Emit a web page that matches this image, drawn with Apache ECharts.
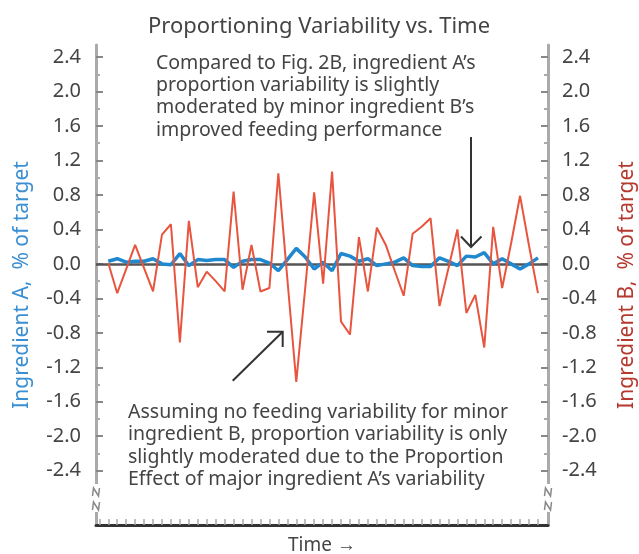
<!DOCTYPE html>
<html>
<head>
<meta charset="utf-8">
<script src="https://cdn.jsdelivr.net/npm/echarts@6/dist/echarts.min.js"></script>
<style>
html,body{margin:0;padding:0;background:#fff;}
#chart{width:639px;height:554px;}
</style>
</head>
<body>
<div id="chart"></div>
<script>
// Time index of each sample
var timeIndex = [0,1,2,3,4,5,6,7,8,9,10,11,12,13,14,15,16,17,18,19,20,21,22,23,24,25,26,27,28,29,30,31,32,33,34,35,36,37,38,39,40,41,42,43,44,45,46,47,48];
// Ingredient A, % of target (blue, left axis)
var ingredientA = [0.03,0.06,0.02,0.03,0.03,0.06,0.00,-0.01,0.12,-0.02,0.05,0.04,0.05,0.05,-0.04,0.03,0.05,0.05,0.01,-0.08,0.05,0.18,0.08,-0.06,0.02,-0.08,0.12,0.09,0.03,0.06,-0.02,0.00,0.02,0.07,-0.02,-0.03,-0.03,0.07,0.03,-0.02,0.09,0.08,0.13,0.00,0.06,0.00,-0.06,0.00,0.07];
// Ingredient B, % of target (red, right axis)
var ingredientB = [0.01,-0.34,-0.06,0.22,-0.05,-0.32,0.34,0.46,-0.91,0.50,-0.27,-0.09,-0.20,-0.32,0.84,-0.30,0.22,-0.32,-0.28,1.05,-0.17,-1.37,-0.28,0.83,-0.23,1.07,-0.67,-0.82,0.31,-0.32,0.42,0.22,-0.08,-0.37,0.35,0.43,0.53,-0.49,-0.05,0.40,-0.57,-0.36,-0.97,0.43,-0.28,0.24,0.79,0.21,-0.34];
// Axis tick values
var yMajorTicks = [-2.4,-2.0,-1.6,-1.2,-0.8,-0.4,0,0.4,0.8,1.2,1.6,2.0,2.4];
var yMinorTicks = [-2.2,-1.8,-1.4,-1.0,-0.6,-0.2,0.2,0.6,1.0,1.4,1.8,2.2];
var xTicks = [-1,0,1,2,3,4,5,6,7,8,9,10,11,12,13,14,15,16,17,18,19,20,21,22,23,24,25,26,27,28,29,30,31,32,33,34,35,36,37,38,39,40,41,42,43,44,45,46,47,48];

var FONT = 'Noto Sans';
var TXT = '#444';
var chart = echarts.init(document.getElementById('chart'), null, {renderer:'canvas'});

function yAxisCfg(pos, name, nameColor, isMinor) {
  return {
    type: 'value', position: pos, offset: 0, min: -3.03, max: 2.54,
    name: isMinor ? '' : name,
    nameLocation: 'middle', nameRotate: 90,
    nameGap: pos === 'left' ? 63 : 69,
    nameTextStyle: {color: nameColor, fontSize: 21, fontFamily: FONT},
    axisLine: {show: !isMinor, onZero: false, lineStyle: {color: '#aaa', width: 3}},
    axisTick: {show: true, inside: true, length: isMinor ? 4 : 7,
      customValues: isMinor ? yMinorTicks : yMajorTicks,
      lineStyle: {color: isMinor ? '#aaa' : '#888', width: 2}},
    axisLabel: {show: !isMinor, customValues: yMajorTicks, margin: pos === 'left' ? 15 : 14,
      color: TXT, fontSize: 20, fontFamily: FONT,
      formatter: function(v){ return v.toFixed(1); }},
    splitLine: {show: false}
  };
}

var option = {
  animation: false,
  backgroundColor: '#fff',
  title: {
    text: 'Proportioning Variability vs. Time',
    left: 314, top: 11, textAlign: 'center',
    textStyle: {color: TXT, fontSize: 22, fontWeight: 'normal', fontFamily: FONT}
  },
  grid: {left: 96, right: 91, top: 45, bottom: 29, containLabel: false, outerBoundsMode: 'none'},
  xAxis: {
    type: 'value', min: -1.37, max: 49.12,
    name: 'Time →', nameLocation: 'middle', nameGap: 11,
    nameTextStyle: {color: TXT, fontSize: 19, fontFamily: FONT, verticalAlign: 'top'},
    axisLine: {onZero: false, lineStyle: {color: '#333', width: 3}},
    axisTick: {inside: true, length: 6, customValues: xTicks, lineStyle: {color: '#aaa', width: 1.5}},
    axisLabel: {show: false},
    splitLine: {show: false}
  },
  yAxis: [
    yAxisCfg('left', 'Ingredient A,  % of target', '#3a8fd3', false),
    yAxisCfg('right', 'Ingredient B,  % of target', '#b5392f', false),
    yAxisCfg('left', '', '#000', true),
    yAxisCfg('right', '', '#000', true)
  ],
  series: [
    {
      name: 'Ingredient A', type: 'line', yAxisIndex: 0, z: 3,
      data: timeIndex.map(function(t, i){ return [t, ingredientA[i]]; }),
      symbol: 'none', lineStyle: {color: '#1f88cf', width: 3.5},
      markLine: {silent: true, symbol: 'none', label: {show: false},
        lineStyle: {color: '#555', width: 2.5, type: 'solid'}, data: [{yAxis: 0}], z: 2}
    },
    {
      name: 'Ingredient B', type: 'line', yAxisIndex: 1, z: 4,
      data: timeIndex.map(function(t, i){ return [t, ingredientB[i]]; }),
      symbol: 'none', lineStyle: {color: '#e8553f', width: 2}
    }
  ],
  graphic: [
    {type: 'text', left: 156, top: 52, z: 10,
      style: {text: 'Compared to Fig. 2B, ingredient A’s\nproportion variability is slightly\nmoderated by minor ingredient B’s\nimproved feeding performance',
        fill: TXT, font: '19.5px "Noto Sans"', lineHeight: 22.3}},
    {type: 'text', left: 128, top: 401, z: 10,
      style: {text: 'Assuming no feeding variability for minor\ningredient B, proportion variability is only\nslightly moderated due to the Proportion\nEffect of major ingredient A’s variability',
        fill: TXT, font: '19.5px "Noto Sans"', lineHeight: 22.5}},
    // down arrow
    {type: 'line', z: 10, shape: {x1: 471, y1: 137, x2: 471, y2: 247}, style: {stroke: '#333', lineWidth: 2}},
    {type: 'polyline', z: 10, shape: {points: [[461, 236.5],[471, 247],[481.5, 236.5]]}, style: {stroke: '#333', lineWidth: 2, fill: null}},
    // diagonal arrow
    {type: 'line', z: 10, shape: {x1: 232.7, y1: 380.7, x2: 282.7, y2: 331.7}, style: {stroke: '#333', lineWidth: 2}},
    {type: 'polyline', z: 10, shape: {points: [[267, 331.7],[282.7, 331.7],[282.7, 347]]}, style: {stroke: '#333', lineWidth: 2, fill: null}},
    // axis breaks (left)
    {type: 'rect', z: 20, shape: {x: 91, y: 484, width: 10, height: 28}, style: {fill: '#fff'}},
    {type: 'polyline', z: 21, shape: {points: [[92.5,496],[93.5,488],[98.5,496],[99.5,488]]}, style: {stroke: '#888', lineWidth: 1.5, fill: null}},
    {type: 'polyline', z: 21, shape: {points: [[92.5,510],[93.5,502],[98.5,510],[99.5,502]]}, style: {stroke: '#888', lineWidth: 1.5, fill: null}},
    // axis breaks (right)
    {type: 'rect', z: 20, shape: {x: 543, y: 484, width: 10, height: 28}, style: {fill: '#fff'}},
    {type: 'polyline', z: 21, shape: {points: [[544.5,496],[545.5,488],[550.5,496],[551.5,488]]}, style: {stroke: '#888', lineWidth: 1.5, fill: null}},
    {type: 'polyline', z: 21, shape: {points: [[544.5,510],[545.5,502],[550.5,510],[551.5,502]]}, style: {stroke: '#888', lineWidth: 1.5, fill: null}}
  ]
};
chart.setOption(option);
</script>
</body>
</html>
